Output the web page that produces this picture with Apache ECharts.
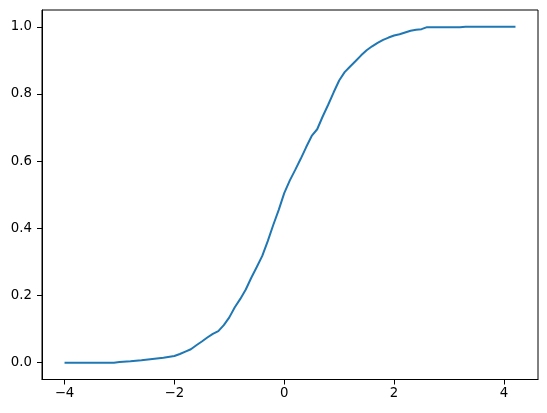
<!DOCTYPE html>
<html>
<head>
<meta charset="utf-8">
<script src="https://cdn.jsdelivr.net/npm/echarts@6/dist/echarts.min.js"></script>
<style>
html,body{margin:0;padding:0;background:#fff;}
#chart{width:547px;height:413px;}
</style>
</head>
<body>
<div id="chart"></div>
<script>
const xValues = [-4.0,-3.5,-3.1,-3.0,-2.8,-2.6,-2.4,-2.2,-2.0,-1.9,-1.8,-1.7,-1.6,-1.5,-1.4,-1.3,-1.2,-1.1,-1.0,-0.9,-0.8,-0.7,-0.6,-0.5,-0.4,-0.3,-0.2,-0.1,0.0,0.1,0.2,0.3,0.4,0.5,0.6,0.7,0.8,0.9,1.0,1.1,1.2,1.3,1.4,1.5,1.6,1.7,1.8,1.9,2.0,2.1,2.2,2.3,2.4,2.5,2.6,2.7,3.0,3.2,3.3,4.21];
const yValues = [0,0,0,0.002,0.004,0.007,0.011,0.015,0.020,0.026,0.033,0.040,0.052,0.063,0.075,0.086,0.094,0.112,0.135,0.165,0.190,0.218,0.253,0.285,0.318,0.362,0.410,0.455,0.505,0.542,0.574,0.607,0.642,0.675,0.695,0.733,0.768,0.805,0.840,0.865,0.882,0.898,0.915,0.930,0.942,0.952,0.961,0.968,0.974,0.978,0.983,0.988,0.991,0.993,0.999,0.999,0.999,0.999,1.0,1.0];
const xTicks = [-4,-2,0,2,4];
const yTicks = [0,0.2,0.4,0.6,0.8,1.0];

const data = xValues.map((x,i)=>[x,yValues[i]]);
const chart = echarts.init(document.getElementById('chart'), null, {renderer:'canvas'});
const labelStyle = {color:'#000', fontSize:13.3, fontFamily:'DejaVu Sans'};
chart.setOption({
  animation:false,
  grid:{left:42,right:9,top:10,bottom:33.5,show:true,borderColor:'#000',borderWidth:1,backgroundColor:'transparent'},
  xAxis:{type:'value',min:-4.41,max:4.62,
    axisLine:{show:true,onZero:false,lineStyle:{color:'#000',width:1}},
    axisTick:{show:true,length:5,customValues:xTicks,lineStyle:{color:'#000',width:1}},
    axisLabel:Object.assign({margin:8,customValues:xTicks,formatter:v=>String(v).replace('-','\u2212')},labelStyle),
    splitLine:{show:false}},
  yAxis:{type:'value',min:-0.05,max:1.05,
    axisLine:{show:true,onZero:false,lineStyle:{color:'#000',width:1}},
    axisTick:{show:true,length:5,customValues:yTicks,lineStyle:{color:'#000',width:1}},
    axisLabel:Object.assign({margin:10,customValues:yTicks,formatter:v=>v.toFixed(1)},labelStyle),
    splitLine:{show:false}},
  series:[{type:'line',data:data,showSymbol:false,symbol:'none',
    lineStyle:{color:'#1f77b4',width:2},clip:true}]
});
</script>
</body>
</html>
